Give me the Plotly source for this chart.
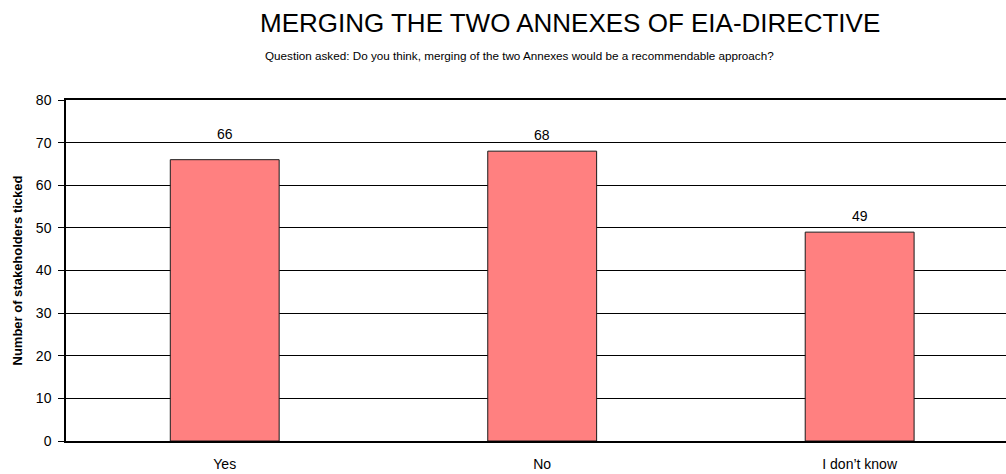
import plotly.graph_objects as go

categories = ["Yes", "No", "I don’t know"]
counts = [66, 68, 49]
y_ticks = [0, 10, 20, 30, 40, 50, 60, 70, 80]

FONT = "Liberation Sans, Arial, sans-serif"

fig = go.Figure(
    go.Bar(
        x=list(range(len(categories))),
        y=counts,
        width=0.343,
        marker=dict(color="#FF8080", line=dict(color="#1a1a1a", width=1)),
        hoverinfo="skip",
    )
)

# value labels floating above each bar (the first one sits a little higher)
label_lift = {0: 16}
value_labels = [
    dict(
        x=i, y=v, xref="x", yref="y",
        text=str(v), showarrow=False,
        yanchor="bottom", yshift=label_lift.get(i, 6),
        font=dict(family=FONT, size=14, color="#000000"),
    )
    for i, v in enumerate(counts)
]

plot_top, plot_bottom = 100, 441
plot_h = plot_bottom - plot_top
header = [
    dict(
        text="MERGING THE TWO ANNEXES OF EIA-DIRECTIVE",
        x=(570 - 66) / 940, y=1 + (plot_top - 23) / plot_h,
        xref="paper", yref="paper", yanchor="middle",
        showarrow=False,
        font=dict(family=FONT, size=26, color="#000000"),
    ),
    dict(
        text="Question asked: Do you think, merging of the two Annexes would be a recommendable approach?",
        x=(519 - 66) / 940, y=1 + (plot_top - 55) / plot_h,
        xref="paper", yref="paper", yanchor="middle",
        showarrow=False,
        font=dict(family=FONT, size=11.7, color="#000000"),
    ),
]

fig.update_layout(
    width=1006,
    height=474,
    margin=dict(l=66, r=0, t=plot_top, b=474 - plot_bottom),
    paper_bgcolor="white",
    plot_bgcolor="white",
    showlegend=False,
    font=dict(family=FONT, color="#000000"),
    annotations=header + value_labels,
)

fig.update_xaxes(
    range=[-0.5, 2.461],
    tickmode="array",
    tickvals=list(range(len(categories))),
    ticktext=categories,
    tickfont=dict(size=14),
    showgrid=False,
    showline=True,
    linecolor="#000000",
    linewidth=1.5,
    mirror=True,
    ticks="outside",
    ticklen=9,
    tickcolor="rgba(0,0,0,0)",
    zeroline=False,
)

fig.update_yaxes(
    range=[0, 80],
    tickvals=y_ticks,
    tickfont=dict(size=14),
    showgrid=True,
    gridcolor="#000000",
    gridwidth=1,
    showline=True,
    linecolor="#000000",
    linewidth=1.5,
    ticks="outside",
    ticklen=6,
    tickcolor="#000000",
    ticklabelstandoff=4,
    zeroline=False,
    title=dict(
        text="<b>Number of stakeholders ticked</b>",
        font=dict(size=13),
        standoff=10,
    ),
)

fig.write_html("out.html")
